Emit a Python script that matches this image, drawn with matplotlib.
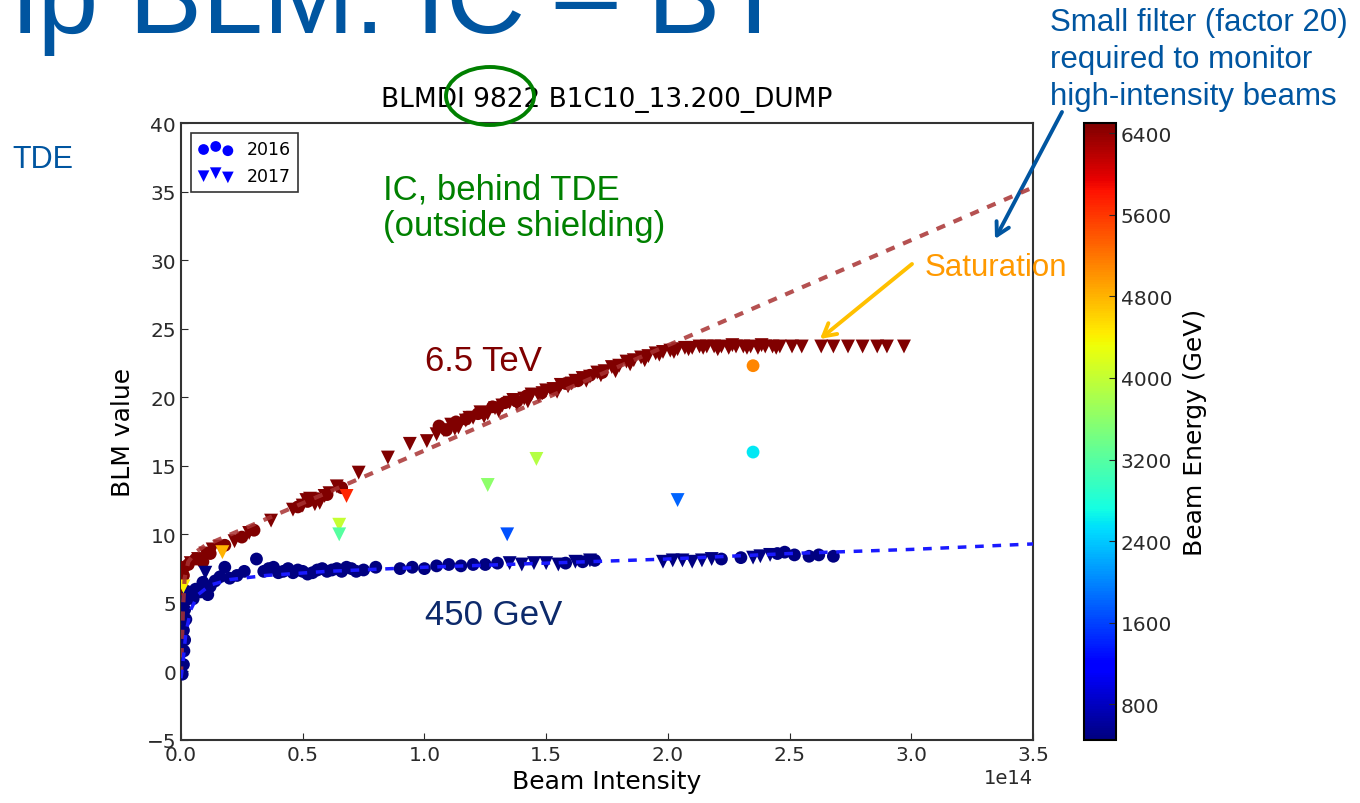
import matplotlib
matplotlib.use("Agg")
import matplotlib.pyplot as plt
from matplotlib.patches import Ellipse

W, H = 1360, 804

# 6.5 TeV, 2016 (circles)
hi16_x = [0.0, 0.01, 0.01, 0.005, 0.03, 0.06, 0.09, 0.12, 0.18, 0.25, 0.30,
          0.48, 0.52, 0.56, 0.60, 0.66, 1.06, 1.09, 1.13, 1.17, 1.22, 1.28,
          1.33, 1.38, 1.42, 1.48, 1.53, 1.58, 1.63, 1.68, 1.73]
hi16_y = [7.6, 7.0, 6.0, 5.0, 7.8, 8.2, 8.0, 8.6, 9.2, 9.8, 10.3,
          12.0, 12.4, 12.6, 12.9, 13.4, 17.9, 17.6, 18.2, 18.4, 18.8, 19.3,
          19.6, 19.7, 20.1, 20.3, 20.6, 21.0, 21.2, 21.6, 21.8]

# 6.5 TeV, 2017 (triangles)
hi17_x = [0.02, 0.04, 0.07, 0.10, 0.13, 0.16, 0.22, 0.28, 0.37, 0.46,
          0.50, 0.53, 0.57, 0.61, 0.64, 0.73, 0.85, 0.94, 1.01, 1.05,
          1.08, 1.11, 1.14, 1.17, 1.20, 1.23, 1.26, 1.29, 1.32, 1.35,
          1.38, 1.41, 1.44, 1.47, 1.50, 1.53, 1.56, 1.59, 1.62, 1.65,
          1.68, 1.71, 1.74, 1.77, 1.80, 1.83, 1.86, 1.89, 1.92, 1.95,
          1.98, 2.01, 2.04, 2.07, 2.10, 2.13, 2.16, 2.19, 2.22, 2.25,
          2.28, 2.31, 2.34, 2.37, 2.40, 2.43, 2.46, 2.51, 2.55, 2.63,
          2.68, 2.74, 2.80, 2.86, 2.90, 2.97,
          1.125, 1.185, 1.245, 1.305, 1.365, 1.425, 1.485, 1.545, 1.605,
          1.665, 1.725, 1.785, 1.845, 1.905, 1.965, 2.025, 2.085, 2.145,
          2.205, 2.265, 2.325, 2.385, 2.445, 0.55, 0.59, 0.515]
hi17_y = [7.4, 7.9, 8.2, 8.6, 8.9, 9.1, 9.5, 10.1, 11.0, 11.8,
          12.1, 12.6, 12.3, 13.0, 13.5, 14.5, 15.6, 16.6, 16.8, 17.3,
          17.6, 18.0, 17.8, 18.3, 18.5, 18.9, 18.8, 19.2, 19.4, 19.6,
          19.5, 19.9, 20.2, 20.1, 20.5, 20.6, 20.9, 20.8, 21.2, 21.4,
          21.5, 21.8, 21.9, 22.2, 22.3, 22.6, 22.7, 22.9, 23.0, 23.2,
          23.3, 23.4, 23.5, 23.6, 23.6, 23.7, 23.7, 23.7, 23.7, 23.6,
          23.7, 23.7, 23.7, 23.6, 23.7, 23.7, 23.7, 23.7, 23.7, 23.7,
          23.7, 23.7, 23.7, 23.7, 23.7, 23.7,
          17.7, 18.5, 18.6, 19.0, 19.8, 19.7, 20.3, 20.4, 21.0,
          21.2, 21.6, 21.9, 22.4, 22.7, 23.1, 23.3, 23.5, 23.6,
          23.5, 23.8, 23.6, 23.8, 23.6, 12.2, 12.8, 12.5]

# 450 GeV, 2016 (circles)
lo16_x = [0.005, 0.01, 0.012, 0.015, 0.01, 0.02, 0.015, 0.02, 0.03, 0.05,
          0.06, 0.08, 0.09, 0.11, 0.12, 0.14, 0.16, 0.18, 0.20, 0.23,
          0.26, 0.31, 0.34, 0.38, 0.42, 0.46, 0.50, 0.54, 0.58, 0.62,
          0.66, 0.70, 0.75, 0.80, 0.90, 0.95, 1.00, 1.05, 1.10, 1.15,
          1.20, 1.25, 1.30, 1.58, 1.65, 1.70, 2.22, 2.30, 2.45, 2.48,
          2.52, 2.58, 2.62, 2.68,
          0.36, 0.40, 0.44, 0.48, 0.52, 0.56, 0.60, 0.64, 0.68, 0.72]
lo16_y = [-0.2, 0.5, 1.5, 2.3, 3.0, 3.8, 4.5, 5.2, 5.8, 5.3,
          6.0, 5.8, 6.5, 5.6, 6.2, 6.6, 6.9, 7.6, 6.8, 7.0,
          7.3, 8.2, 7.3, 7.6, 7.3, 7.2, 7.3, 7.2, 7.5, 7.4,
          7.3, 7.5, 7.4, 7.6, 7.5, 7.6, 7.5, 7.7, 7.8, 7.7,
          7.8, 7.8, 7.9, 7.9, 8.0, 8.1, 8.2, 8.3, 8.6, 8.7,
          8.5, 8.4, 8.5, 8.4,
          7.5, 7.2, 7.5, 7.4, 7.1, 7.4, 7.3, 7.5, 7.6, 7.3]

# 450 GeV, 2017 (triangles)
lo17_x = [0.10, 1.35, 1.40, 1.45, 1.50, 1.55, 1.62, 1.68, 1.98, 2.02,
          2.06, 2.10, 2.14, 2.18, 2.35, 2.38, 2.42]
lo17_y = [7.2, 7.9, 7.8, 7.9, 7.9, 7.8, 8.0, 8.1, 8.0, 8.1,
          8.1, 8.0, 8.1, 8.2, 8.3, 8.4, 8.5]

# intermediate energies
mid16_x = [2.35, 2.35]
mid16_y = [22.3, 16.0]
mid16_e = [5100, 2600]
mid17_x = [0.68, 0.65, 0.65, 1.26, 1.46, 1.34, 2.04, 0.17, 0.01]
mid17_y = [12.8, 10.7, 10.0, 13.6, 15.5, 10.0, 12.5, 8.7, 6.2]
mid17_e = [5700, 4000, 3200, 3600, 3900, 1700, 1800, 4800, 4400]

E_HIGH, E_LOW = 6500, 450

# fits
fit_hi_x = [0.0, 0.004, 0.008, 0.015, 0.03, 0.06, 0.1, 3.5]
fit_hi_y = [-0.3, 2.0, 4.5, 6.8, 8.0, 8.7, 9.2, 35.3]
fit_lo_x = [0.0, 0.01, 0.02, 0.04, 0.07, 0.12, 0.2, 0.35, 0.6, 1.0, 1.5, 2.0, 2.5, 3.0, 3.5]
fit_lo_y = [-0.5, 1.0, 2.8, 4.5, 5.6, 6.3, 6.7, 7.0, 7.3, 7.6, 7.9, 8.2, 8.6, 8.9, 9.3]

cbar_ticks = [800, 1600, 2400, 3200, 4000, 4800, 5600, 6400]
x_ticks = [0.0, 0.5, 1.0, 1.5, 2.0, 2.5, 3.0, 3.5]
y_ticks = [-5, 0, 5, 10, 15, 20, 25, 30, 35, 40]

plt.rcParams["font.family"] = "DejaVu Sans"
plt.rcParams["xtick.direction"] = "in"
plt.rcParams["ytick.direction"] = "in"


def fx(px):
    return px / W


def fy(py):
    return 1 - py / H


fig = plt.figure(figsize=(W / 100, H / 100), dpi=100)
ax = fig.add_axes([fx(181), fy(741), (1033 - 181) / W, (741 - 124) / H])

S_DOT, S_TRI = 85, 100
sc_kw = dict(cmap="jet", vmin=E_LOW, vmax=6500, linewidths=0, zorder=3)
sc = ax.scatter([x * 1e14 for x in hi16_x], hi16_y, c=[E_HIGH] * len(hi16_x),
                marker="o", s=S_DOT, **sc_kw)
ax.scatter([x * 1e14 for x in hi17_x], hi17_y, c=[E_HIGH] * len(hi17_x),
           marker="v", s=S_TRI, **sc_kw)
ax.scatter([x * 1e14 for x in lo16_x], lo16_y, c=[E_LOW] * len(lo16_x),
           marker="o", s=S_DOT, **sc_kw)
ax.scatter([x * 1e14 for x in lo17_x], lo17_y, c=[E_LOW] * len(lo17_x),
           marker="v", s=S_TRI, **sc_kw)
ax.scatter([x * 1e14 for x in mid16_x], mid16_y, c=mid16_e, marker="o", s=S_DOT, **sc_kw)
ax.scatter([x * 1e14 for x in mid17_x], mid17_y, c=mid17_e, marker="v", s=S_TRI, **sc_kw)

ax.plot([x * 1e14 for x in fit_hi_x], fit_hi_y, ls=(0, (2.2, 2.2)), lw=3,
        color="#a83232", alpha=0.85, zorder=4)
ax.plot([x * 1e14 for x in fit_lo_x], fit_lo_y, ls=(0, (2.5, 2.5)), lw=2.5,
        color="#1a1aff", zorder=4)

ax.set_xlim(0, 3.5e14)
ax.set_ylim(-5, 40)
ax.set_xticks([t * 1e14 for t in x_ticks])
ax.set_yticks(y_ticks)
ax.tick_params(labelsize=14.5, colors="#2a2a2a", length=5)
ax.xaxis.get_offset_text().set_fontsize(14)
for s in ax.spines.values():
    s.set_linewidth(1.5)
    s.set_color("#333333")
ax.set_xlabel("Beam Intensity", fontsize=18, labelpad=4)
ax.set_ylabel("BLM value", fontsize=18, labelpad=8)
ax.set_title("BLMDI 9822 B1C10_13.200_DUMP", fontsize=19, pad=12)

h16 = ax.scatter([], [], c="b", marker="o", s=60, linewidths=0)
h17 = ax.scatter([], [], c="b", marker="v", s=70, linewidths=0)
leg = ax.legend([h16, h17], ["2016", "2017"], loc="upper left", fontsize=12.5,
                scatterpoints=3, scatteryoffsets=[0.4, 0.65, 0.3],
                fancybox=False, edgecolor="#333333", framealpha=1,
                borderaxespad=0.6, handletextpad=0.8)
leg.get_frame().set_linewidth(1.2)

cax = fig.add_axes([fx(1084), fy(741), 32 / W, (741 - 124) / H])
cb = fig.colorbar(sc, cax=cax, ticks=cbar_ticks)
cb.outline.set_linewidth(1.5)
cb.ax.tick_params(labelsize=14.5, direction="in", length=5, colors="#2a2a2a")
cb.set_label("Beam Energy (GeV)", fontsize=18, labelpad=8)

# slide annotations
slide = "Liberation Sans"
blue = "#0055a0"
fig.text(fx(13), fy(33), "ip BLM: IC \u2013 BT", fontsize=79, color=blue,
         family=slide, va="baseline", ha="left")
fig.text(fx(12), fy(160), "TDE", fontsize=22, color=blue, family=slide,
         va="center", ha="left")
fig.text(fx(383), fy(208), "IC, behind TDE\n(outside shielding)", fontsize=25,
         color="#008000", family=slide, va="center", ha="left", linespacing=1.15)
fig.text(fx(425), fy(362), "6.5 TeV", fontsize=25, color="#7f0000", family=slide,
         va="center", ha="left")
fig.text(fx(425), fy(616), "450 GeV", fontsize=25, color="#0d2a6b", family=slide,
         va="center", ha="left")
fig.text(fx(925), fy(268), "Saturation", fontsize=22.5, color="#ff9900",
         family=slide, va="center", ha="left")
fig.text(fx(1050), fy(60), "Small filter (factor 20)\nrequired to monitor\nhigh-intensity beams",
         fontsize=22.5, color=blue, family=slide, va="center", ha="left",
         linespacing=1.3)

fig.add_artist(Ellipse((fx(490), fy(97)), 88 / W, 58 / H, transform=fig.transFigure,
                       fill=False, ec="#008000", lw=2.8))
ax.annotate("", xy=(fx(995), fy(240)), xycoords="figure fraction",
            xytext=(fx(1062), fy(113)), textcoords="figure fraction",
            arrowprops=dict(arrowstyle="->,head_length=0.9,head_width=0.5",
                            color=blue, lw=2.8, shrinkA=0, shrinkB=0))
ax.annotate("", xy=(fx(820), fy(340)), xycoords="figure fraction",
            xytext=(fx(912), fy(265)), textcoords="figure fraction",
            arrowprops=dict(arrowstyle="->,head_length=0.9,head_width=0.5",
                            color="#ffc000", lw=2.8, shrinkA=0, shrinkB=0))

fig.savefig("out.png", dpi=100, facecolor="white")
